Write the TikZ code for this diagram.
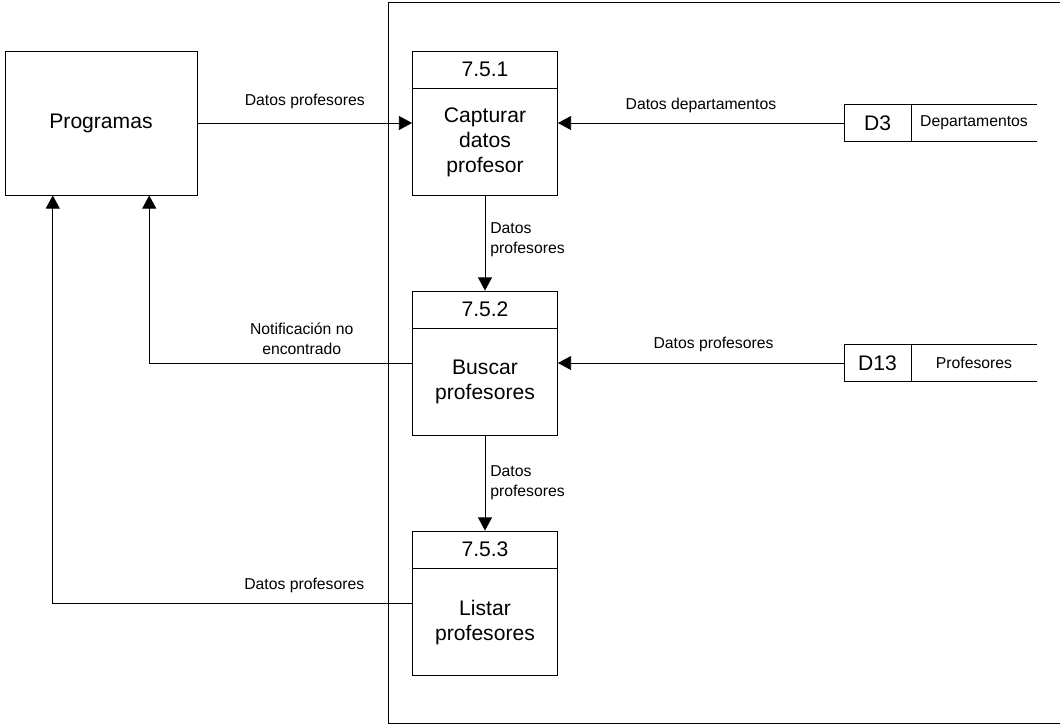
\documentclass[tikz,border=0pt]{standalone}
\usepackage{fontspec}
\setmainfont{Liberation Sans}
\usetikzlibrary{arrows.meta, positioning, calc}
\tikzset{
  bigtxt/.style={font=\fontsize{15}{17.8}\selectfont},
  smalltxt/.style={font=\fontsize{11.2}{14}\selectfont},
  ent/.style={rectangle, draw, line width=0.6pt, minimum width=4.8cm, minimum height=3.6cm, bigtxt},
  proc/.style={rectangle, draw, line width=0.6pt, minimum width=3.625cm, minimum height=3.6cm},
  procnum/.style={rectangle, draw, line width=0.6pt, minimum width=3.625cm, minimum height=0.925cm,
                  inner sep=0pt, bigtxt},
  proctxt/.style={rectangle, minimum width=3.625cm, minimum height=2.675cm, align=center,
                  inner sep=0pt, bigtxt},
  storeid/.style={rectangle, draw, line width=0.6pt, minimum width=1.675cm, minimum height=0.925cm,
                  inner sep=0pt, outer sep=0pt, bigtxt},
  storename/.style={rectangle, minimum width=3.15cm, minimum height=0.925cm, inner sep=0pt,
                    outer sep=0pt, smalltxt},
  flow/.style={-{Triangle[length=3.3mm, width=3.5mm]}, line width=0.6pt},
  flowlbl/.style={smalltxt, align=center, inner sep=1pt},
}

\begin{document}
\begin{tikzpicture}[x=0.025cm, y=-0.025cm]
  \useasboundingbox (0,0) rectangle (1060,726);
  % system boundary, open on the right
  \draw[line width=0.6pt] (1060,2) -- (388,2) -- (388,723) -- (1060,723);

  \node[ent] (prog) at (101,123) {Programas};

  % processes
  \node[proc] (p1) at (485,123) {};
  \node[procnum, below=0pt of p1.north] (p1n) {7.5.1};
  \node[proctxt, below=0pt of p1n] (p1t) {Capturar\\datos\\profesor};
  \node[proc] (p2) at (485,363) {};
  \node[procnum, below=0pt of p2.north] (p2n) {7.5.2};
  \node[proctxt, below=0pt of p2n] (p2t) {Buscar\\profesores};
  \node[proc] (p3) at (485,603) {};
  \node[procnum, below=0pt of p3.north] (p3n) {7.5.3};
  \node[proctxt, below=0pt of p3n] (p3t) {Listar\\profesores};

  % data stores
  \node[storeid] (d3) at (877.5,123) {D3};
  \node[storename, right=0pt of d3] (d3n) {Departamentos};
  \draw[line width=0.6pt] (d3.north east) -- (d3n.north east);
  \draw[line width=0.6pt] (d3.south east) -- (d3n.south east);
  \node[storeid] (d13) at (877.5,363) {D13};
  \node[storename, right=0pt of d13] (d13n) {Profesores};
  \draw[line width=0.6pt] (d13.north east) -- (d13n.north east);
  \draw[line width=0.6pt] (d13.south east) -- (d13n.south east);

  % flows
  \draw[flow] (prog.east) -- node[flowlbl, yshift=0.55cm] (l1) {Datos profesores} (p1.west);
  \draw[flow] (d3.west) -- node[flowlbl, yshift=0.45cm] (l2) {Datos departamentos} (p1.east);
  \draw[flow] (p1.south) -- node[flowlbl, right=2.5pt, align=left, yshift=0.08cm] (l3) {Datos\\profesores} (p2.north);
  \draw[flow] (p2.west) -| node[flowlbl, pos=0.21, yshift=0.6cm] (l4) {Notificación no\\encontrado}
        ($(prog.south west)!0.75!(prog.south east)$);
  \draw[flow] (d13.west) -- node[flowlbl, pos=0.456, yshift=0.47cm] (l5) {Datos profesores} (p2.east);
  \draw[flow] (p2.south) -- node[flowlbl, right=2.5pt, align=left] (l6) {Datos\\profesores} (p3.north);
  \draw[flow] (p3.west) -| node[flowlbl, pos=0.15, yshift=0.45cm] (l7) {Datos profesores}
        ($(prog.south west)!0.25!(prog.south east)$);
\end{tikzpicture}
\end{document}
